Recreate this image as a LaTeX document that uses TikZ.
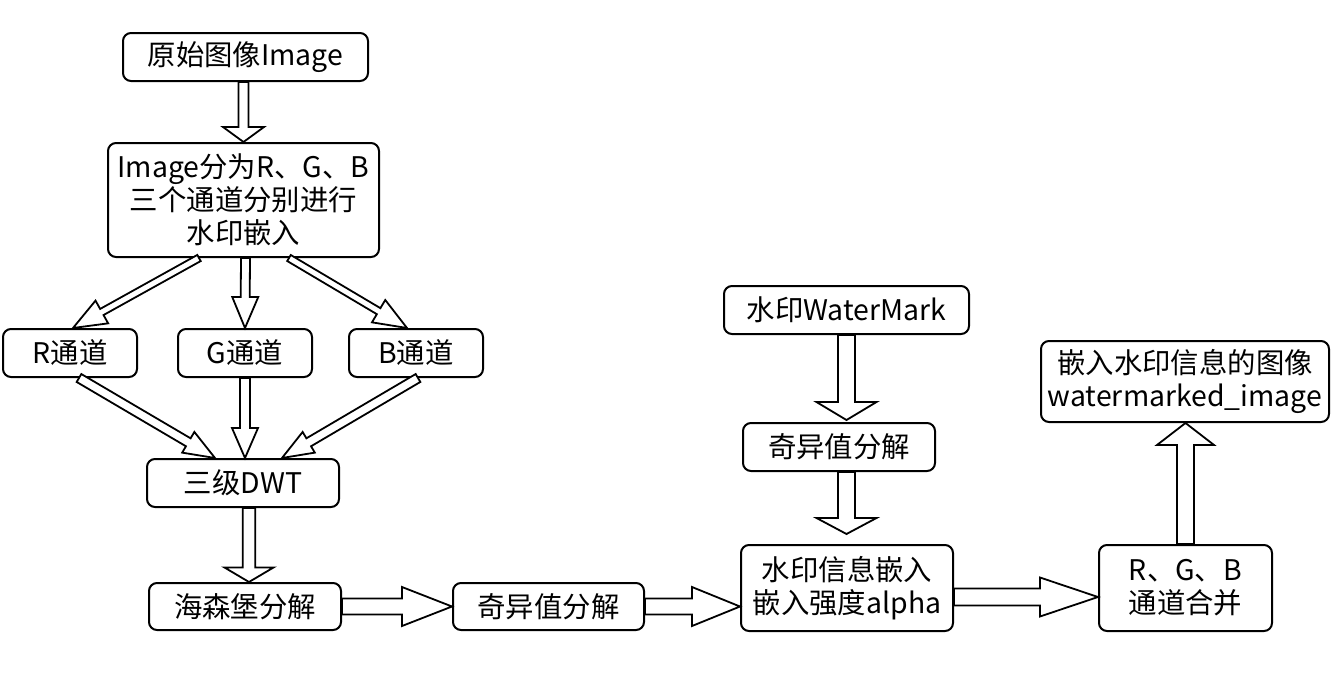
\documentclass[tikz,border=0pt]{standalone}
\usepackage{fontspec}
\setmainfont{Noto Sans CJK SC}
\usetikzlibrary{calc}
\tikzset{
  box/.style={draw, line width=1pt, rounded corners=4pt, align=center, inner sep=0pt,
    font=\fontsize{14.2}{16.5}\selectfont, fill=white},
  blk/.style={draw, line width=0.9pt, fill=white, line join=miter},
}
% #1 start, #2 tip, #3 shaft half width, #4 head half width, #5 head length
\newcommand\blockarr[5]{%
  \draw[blk] ($(#1)!#3!90:(#2)$) --
    ($(#2)!#5!(#1)!#3!90:(#2)$) --
    ($(#2)!#5!(#1)!#4!90:(#2)$) --
    (#2) --
    ($(#2)!#5!(#1)!#4!-90:(#2)$) --
    ($(#2)!#5!(#1)!#3!-90:(#2)$) --
    ($(#1)!#3!-90:(#2)$) -- cycle;%
}
\begin{document}
\begin{tikzpicture}[x=0.5pt, y=-0.5pt]
\useasboundingbox (0,0) rectangle (1338,675);
% nodes
\node[box, minimum width=122.5pt, minimum height=24pt] (n1) at (245.5,57) {原始图像Image};
\node[box, minimum width=135.5pt, minimum height=57pt] (n2) at (243.5,200) {Image分为R、G、B\\三个通道分别进行\\水印嵌入};
\node[box, minimum width=67pt, minimum height=24pt] (nR) at (70,353) {R通道};
\node[box, minimum width=67pt, minimum height=24pt] (nG) at (245,353) {G通道};
\node[box, minimum width=67pt, minimum height=24pt] (nB) at (416,353) {B通道};
\node[box, minimum width=96pt, minimum height=24pt] (nD) at (243,483) {三级DWT};
\node[box, minimum width=96pt, minimum height=23.5pt] (nH) at (245,606.5) {海森堡分解};
\node[box, minimum width=95.5pt, minimum height=23.5pt] (nS1) at (548.5,606.5) {奇异值分解};
\node[box, minimum width=106pt, minimum height=43pt] (nE) at (847,588) {水印信息嵌入\\嵌入强度alpha};
\node[box, minimum width=122.5pt, minimum height=24pt] (nW) at (846.5,310) {水印WaterMark};
\node[box, minimum width=96pt, minimum height=24pt] (nS2) at (839,447) {奇异值分解};
\node[box, minimum width=86.5pt, minimum height=43pt] (nC) at (1185.5,588) {R、G、B\\通道合并};
\node[box, minimum width=144pt, minimum height=40.5pt] (nO) at (1185,381.5) {嵌入水印信息的图像\\watermarked\_image};
% arrow end points
\coordinate (a1s) at (n2.north |- n1.south);
\coordinate (a2s) at ($(n2.south)+(-44.5,0)$);
\coordinate (a2t) at ($(nR.north)+(3,0)$);
\coordinate (a3s) at ($(n2.south)+(2,0)$);
\coordinate (a4s) at ($(n2.south)+(45.5,0)$);
\coordinate (a4t) at ($(nB.north)+(-9,0)$);
\coordinate (a5s) at ($(nR.south)+(9,0)$);
\coordinate (a5t) at ($(nD.north)+(-28,0)$);
\coordinate (a6t) at ($(nD.north)+(2,0)$);
\coordinate (a7s) at ($(nB.south)+(2,0)$);
\coordinate (a7t) at ($(nD.north)+(39,0)$);
\coordinate (a8s) at ($(nD.south)+(6,0)$);
\coordinate (a8t) at ($(nH.north)+(4,0)$);
\coordinate (a10t) at (nE.west |- nS1.west);
\coordinate (a11s) at ($(nE.east)+(0,9)$);
\coordinate (a11t) at ($(nC.west)+(0,9)$);
\coordinate (a12t) at ($(nW.south |- nS2.north)+(0,-2)$);
\coordinate (a13s) at (nW.south |- nS2.south);
\coordinate (a13t) at ($(nW.south |- nE.north)+(0,-10)$);
\coordinate (a14t) at (nC.north |- nO.south);
% arrows
\blockarr{a1s}{n2.north}{2.5pt}{10.25pt}{7.5pt}
\blockarr{a2s}{a2t}{1.75pt}{6.5pt}{16.5pt}
\blockarr{a3s}{nG.north}{2.25pt}{6.5pt}{15.5pt}
\blockarr{a4s}{a4t}{1.75pt}{6.5pt}{16.5pt}
\blockarr{a5s}{a5t}{2.3pt}{6pt}{15.5pt}
\blockarr{nG.south}{a6t}{2.5pt}{6.5pt}{15pt}
\blockarr{a7s}{a7t}{2.3pt}{6pt}{15.5pt}
\blockarr{a8s}{a8t}{3.15pt}{12.25pt}{7.25pt}
\blockarr{nH.east}{nS1.west}{4pt}{9.75pt}{25pt}
\blockarr{nS1.east}{a10t}{4pt}{9.75pt}{24pt}
\blockarr{a11s}{a11t}{4.25pt}{9.75pt}{29pt}
\blockarr{nW.south}{a12t}{4.25pt}{15pt}{9pt}
\blockarr{a13s}{a13t}{4.25pt}{15pt}{8pt}
\blockarr{nC.north}{a14t}{4.25pt}{14.25pt}{11pt}
\end{tikzpicture}
\end{document}
